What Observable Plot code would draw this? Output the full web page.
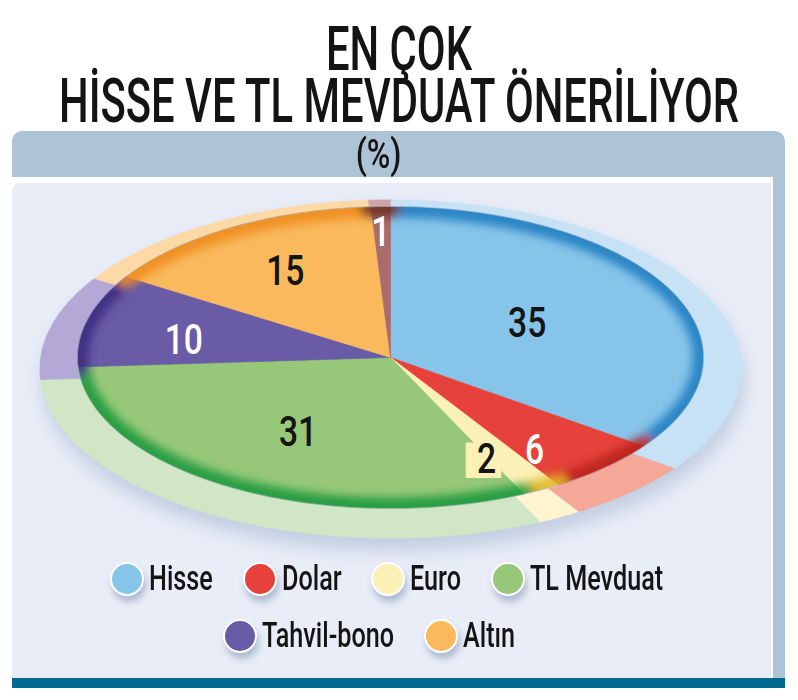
<!DOCTYPE html>
<html>
<head>
<meta charset="utf-8">
<script src="https://cdn.jsdelivr.net/npm/d3@7"></script>
<script src="https://cdn.jsdelivr.net/npm/@observablehq/plot@0.6"></script>
<style>
  html, body { margin: 0; padding: 0; background: #fff; }
  body { width: 798px; height: 700px; position: relative; overflow: hidden; font-family: Roboto, "Noto Sans", sans-serif; color: #141414; }
  .abs { position: absolute; }
  .tline { left: 0; width: 798px; height: 50px; font-size: 62px; font-weight: 500; line-height: 50px; white-space: nowrap; }
  .tline span { position: absolute; left: 399px; top: 0; display: inline-block; line-height: 50px; transform-origin: 50% 50%; white-space: nowrap; }
  #hdr { left: 12px; top: 131px; width: 773px; height: 46px; background: #adc3d6; border-radius: 10px 10px 0 0; }
  #pct { left: 0; top: 3px; width: 733px; height: 42px; text-align: center; font-size: 40px; font-weight: 500; line-height: 42px; }
  #pct span { display: inline-block; transform-origin: 50% 50%; }
  #strip { left: 773px; top: 177px; width: 12px; height: 501px; background: #adc3d6; }
  #panel { left: 12px; top: 183px; width: 759px; height: 495px; background: #e8edf7; border-top-left-radius: 8px; overflow: hidden; }
  #chart { position: absolute; left: 0; top: 0; }
  #bottom { left: 12px; top: 678px; width: 773px; height: 10px; background: #00698f; }
  .lrow { position: absolute; left: 0; width: 759px; height: 40px; display: flex; justify-content: center; align-items: center; box-sizing: border-box; }
  .item { display: flex; align-items: center; margin: 0 15px; }
  .dot { width: 30px; height: 30px; border-radius: 50%; border: 2px solid #fff; box-shadow: 2px 6px 6px rgba(95,115,155,0.40); margin-right: 5px; flex: none; }
  .ltxt { font-size: 35px; font-weight: 500; white-space: nowrap; display: inline-block; transform-origin: 0 50%; line-height: 40px; }
</style>
</head>
<body>
<div class="abs tline" id="t1" style="top:24px"><span>EN ÇOK</span></div>
<div class="abs tline" id="t2" style="top:76px"><span>HİSSE VE TL MEVDUAT ÖNERİLİYOR</span></div>
<div class="abs" id="hdr"><div class="abs" id="pct"><span>(%)</span></div></div>
<div class="abs" id="strip"></div>
<div class="abs" id="panel">
  <div id="chart"></div>
  <div class="lrow" id="row1" style="top:376px; padding-right:10px;"></div>
  <div class="lrow" id="row2" style="top:433px; padding-right:44px;"></div>
</div>
<div class="abs" id="bottom"></div>
<script>
// ---------------- data ----------------
const categories = ["Hisse", "Dolar", "Euro", "TL Mevduat", "Tahvil-bono", "Altın", "Diğer"];
const values = [35, 6, 2, 31, 10, 15, 1];
const legendCategories = ["Hisse", "Dolar", "Euro", "TL Mevduat", "Tahvil-bono", "Altın"];

// ---------------- style ----------------
const mainColors = ["#87c4ea", "#e6423b", "#fbf0b5", "#97c879", "#6a5ba6", "#f9b95c", "#a96c6d"];
const haloColors = ["#c8e2f5", "#f5a898", "#fef4d0", "#d0e6c5", "#b3a8d6", "#fdd9a6", "#cfa5aa"];
const rimColors  = ["#1a7cbf", "#b8241f", "#e2b423", "#19973a", "#3a2a7e", "#ee8a1c", "#6e2e20"];
const labelInk   = ["dark", "light", "dark", "dark", "light", "dark", "light"];
const labelRadius = [0.49, 0.77, 0.74, 0.58, 0.67, 0.66, 0.83];
const labelShift  = [0, 0.018, 0.012, 0, -0.013, 0, -0.001];
const haloScale = 1.12, haloDy = 11.5;
const condenseSvg = 0.8;

// ---------------- geometry from data ----------------
const total = d3.sum(values);
let acc = 0;
const slices = categories.map((cat, i) => {
  const start = acc / total; acc += values[i];
  return {cat, i, value: values[i], start, end: acc / total};
});
const TAU = 2 * Math.PI;
function arcPts(sl, k, apex, key) {
  const pts = [];
  const n = Math.max(3, Math.ceil((sl.end - sl.start) * 360));
  if (apex) pts.push({key, x: 0, y: 0});
  for (let j = 0; j <= n; j++) {
    const a = (sl.start + (sl.end - sl.start) * j / n) * TAU;
    pts.push({key, x: k * Math.sin(a), y: k * Math.cos(a)});
  }
  if (apex) pts.push({key, x: 0, y: 0});
  return pts;
}
const mainPts = slices.flatMap(s => arcPts(s, 1, true, "main:" + s.cat));
const haloPts = slices.flatMap(s => arcPts(s, haloScale, true, "halo:" + s.cat));
const rimPts  = slices.flatMap(s => arcPts(s, 1, false, "rim:" + s.cat));
const labels = slices.map(s => {
  const a = ((s.start + s.end) / 2 + labelShift[s.i]) * TAU;
  const r = labelRadius[s.i];
  return {...s, x: r * Math.sin(a), y: r * Math.cos(a), ink: labelInk[s.i], text: String(s.value)};
});
const colorDomain = [...categories.map(c => "main:" + c), ...categories.map(c => "halo:" + c), ...categories.map(c => "rim:" + c)];
const colorRange = [...mainColors, ...haloColors, ...rimColors];

const W = 759, H = 372;
const textOpts = {x: "x", y: "y", text: "text", fontSize: 42, fontWeight: 500, fontFamily: "Roboto, 'Noto Sans', sans-serif"};
const plot = Plot.plot({
  width: W, height: H,
  marginLeft: 65, marginRight: 68, marginTop: 23, marginBottom: 47,
  x: {domain: [-1, 1], axis: null},
  y: {domain: [-1, 1], axis: null},
  color: {type: "ordinal", domain: colorDomain, range: colorRange},
  style: {background: "transparent", overflow: "visible"},
  marks: [
    /*0*/ Plot.line(haloPts, {x: "x", y: "y", z: "key", fill: "#b9c6dd", stroke: "#b9c6dd", dy: haloDy + 12, dx: 3}),
    /*1*/ Plot.line(haloPts, {x: "x", y: "y", z: "key", fill: "key", stroke: "key", strokeWidth: 0.6, dy: haloDy}),
    /*2*/ Plot.line(mainPts, {x: "x", y: "y", z: "key", fill: "key", stroke: "key", strokeWidth: 0.6}),
    /*3*/ Plot.line(rimPts, {x: "x", y: "y", z: "key", stroke: "key", fill: "none", strokeWidth: 22}),
    /*4*/ Plot.line(rimPts, {x: "x", y: "y", z: "key", stroke: "#9fb2c9", fill: "none", strokeWidth: 1, strokeOpacity: 0.6}),
    /*5*/ Plot.dot(labels.filter(d => d.cat === "Euro"), {x: "x", y: "y", symbol: "square", r: 20, fill: "#fbf0b5", stroke: "none", dx: -3, dy: 1}),
    /*6*/ Plot.text(labels.filter(d => d.ink === "dark"), {...textOpts, fill: "#141414"}),
    /*7*/ Plot.text(labels.filter(d => d.ink === "light"), {...textOpts, fill: "#ffffff"})
  ]
});
document.getElementById("chart").appendChild(plot);

// ---------------- decoration post-processing ----------------
try {
  const groups = Array.from(plot.children).filter(n => n.tagName.toLowerCase() === "g");
  const [gShadow, gHalo, gSlices, gRim, gEdge] = groups;
  const svg = d3.select(plot);
  const defs = svg.insert("defs", ":first-child");
  defs.append("filter").attr("id", "blurShadow").attr("x", "-20%").attr("y", "-20%").attr("width", "140%").attr("height", "140%")
    .append("feGaussianBlur").attr("stdDeviation", 9);
  defs.append("filter").attr("id", "blurRim").attr("x", "-10%").attr("y", "-10%").attr("width", "120%").attr("height", "120%")
    .append("feGaussianBlur").attr("stdDeviation", 4);
  const clip = defs.append("clipPath").attr("id", "pieClip");
  d3.select(gSlices).selectAll("path").each(function () {
    clip.append("path").attr("d", this.getAttribute("d"));
  });
  d3.select(gShadow).attr("filter", "url(#blurShadow)").attr("opacity", 0.8);
  const wrap = document.createElementNS("http://www.w3.org/2000/svg", "g");
  plot.insertBefore(wrap, gRim);
  wrap.appendChild(gRim);
  const rt = gRim.getAttribute("transform");
  if (rt) { wrap.setAttribute("transform", rt); gRim.removeAttribute("transform"); }
  wrap.setAttribute("clip-path", "url(#pieClip)");
  gRim.setAttribute("filter", "url(#blurRim)");
  gRim.setAttribute("opacity", "0.85");

  groups.slice(6).forEach(g => {
    g.querySelectorAll("text").forEach(function (el) {
      const t = el.getAttribute("transform");
      if (t) el.setAttribute("transform", t + ` scale(${condenseSvg},1)`);
      else {
        const x = el.getAttribute("x") || 0, y = el.getAttribute("y") || 0;
        el.removeAttribute("x"); el.removeAttribute("y");
        el.setAttribute("transform", `translate(${x},${y}) scale(${condenseSvg},1)`);
      }
    });
  });
} catch (e) { console.error(e); }

// ---------------- legend ----------------
function condense(el, s) {
  const w = el.getBoundingClientRect().width;
  el.style.width = (w * s) + "px";
  el.style.transform = `scaleX(${s})`;
}
const rows = [document.getElementById("row1"), document.getElementById("row2")];
legendCategories.forEach((c, k) => {
  const item = document.createElement("div");
  item.className = "item";
  const dot = document.createElement("div");
  dot.className = "dot";
  dot.style.background = mainColors[categories.indexOf(c)];
  const txt = document.createElement("span");
  txt.className = "ltxt";
  txt.textContent = c;
  item.appendChild(dot); item.appendChild(txt);
  rows[k < 4 ? 0 : 1].appendChild(item);
  condense(txt, 0.72);
});

// ---------------- title condensing ----------------
const t2 = document.querySelector("#t2 span");
const sTitle = 680 / t2.getBoundingClientRect().width;
document.querySelectorAll(".tline span").forEach(s => s.style.transform = `translateX(-50%) scaleX(${sTitle})`);
document.querySelector("#pct span").style.transform = "scaleX(0.8)";
</script>
</body>
</html>
